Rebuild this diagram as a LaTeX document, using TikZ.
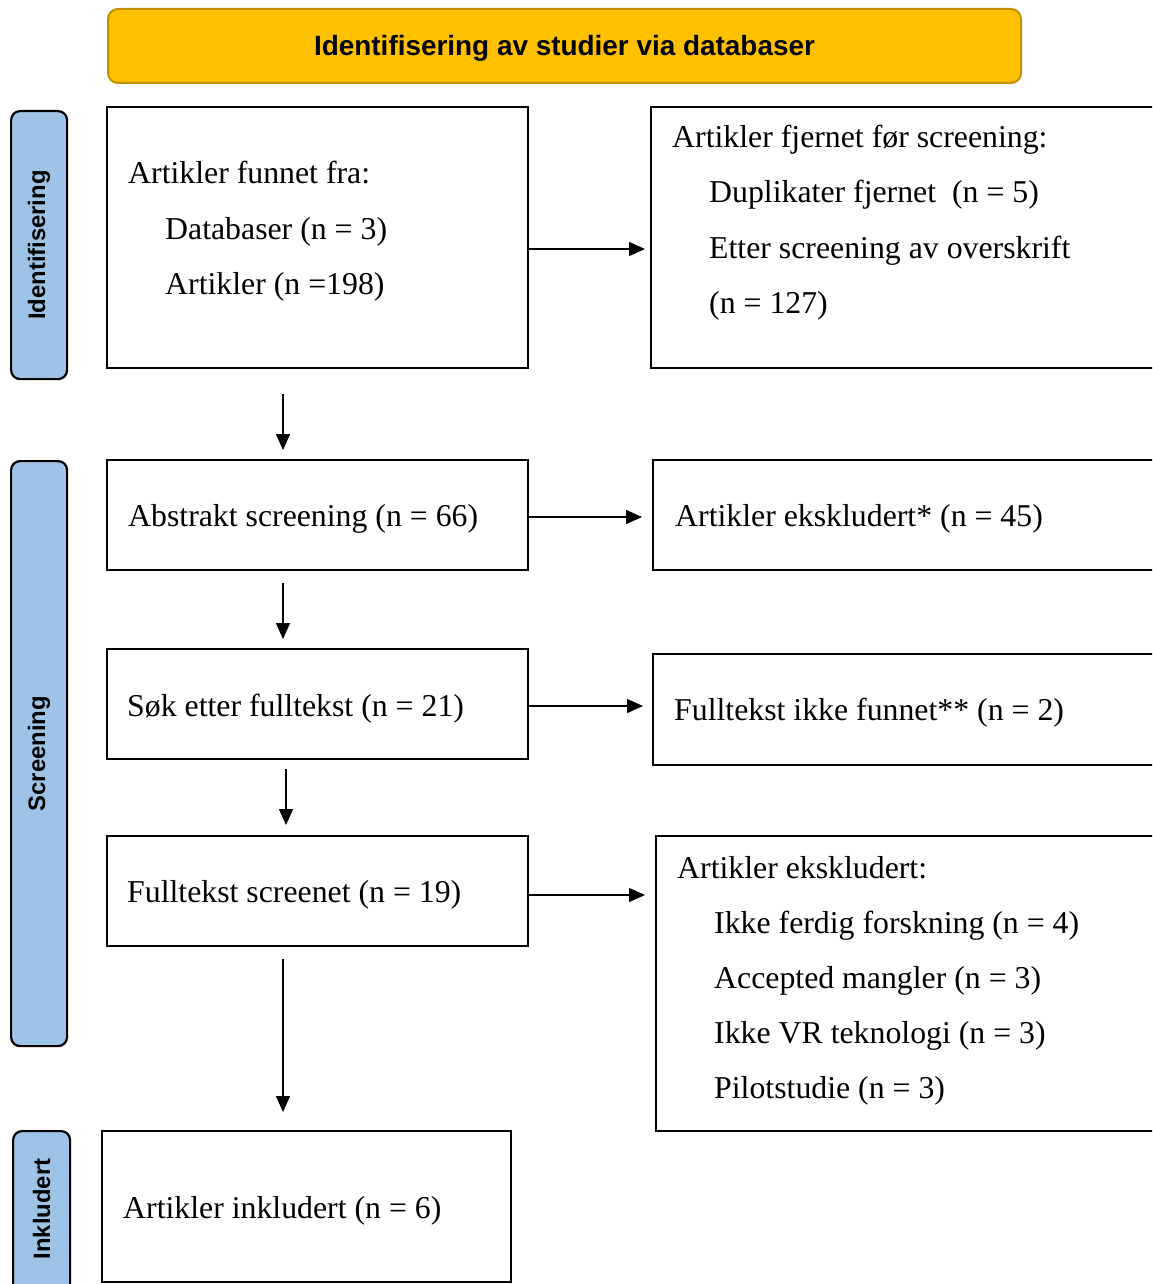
\documentclass[tikz,border=0pt]{standalone}
\usepackage{fontspec}
\setmainfont{Liberation Serif}
\setsansfont{Liberation Sans}
\usetikzlibrary{arrows.meta}
\definecolor{hdrfill}{HTML}{FFC000}
\definecolor{hdrdraw}{HTML}{C09000}
\definecolor{lblfill}{HTML}{9DC3E6}
\tikzset{
  box/.style={draw=black, line width=2.4pt, rectangle, anchor=north west, inner sep=0pt},
  hdr/.style={draw=hdrdraw, fill=hdrfill, line width=2pt, rounded corners=10pt, rectangle, inner sep=0pt,
              font=\sffamily\bfseries\fontsize{27.9}{32}\selectfont},
  lbl/.style={draw=black, fill=lblfill, line width=2.2pt, rounded corners=9pt, rectangle, anchor=north west, inner sep=0pt},
  lbltxt/.style={font=\sffamily\bfseries\fontsize{23.8}{28}\selectfont, rotate=90, inner sep=0pt},
  txt/.style={font=\fontsize{31.8}{38}\selectfont, anchor=base west, inner sep=0pt},
  arr/.style={line width=1.3pt, -{Triangle[length=16pt,width=14pt]}},
}
\begin{document}
\begin{tikzpicture}[x=1pt,y=-1pt]
\useasboundingbox (0,0) rectangle (1152,1284);
\clip (0,0) rectangle (1152,1284);
% header
\node[hdr, minimum width=913pt, minimum height=74pt] (hdr) at (564.5,46) {};
\node[font=\sffamily\bfseries\fontsize{27.9}{32}\selectfont, inner sep=0pt] at ([yshift=-2pt]hdr.center) {Identifisering av studier via databaser};
% side labels
\node[lbl, minimum width=56pt, minimum height=268pt] (L1) at (10,110) {};
\node[lbltxt] at (L1.center) {Identifisering};
\node[lbl, minimum width=56pt, minimum height=585pt] (L2) at (10,460) {};
\node[lbltxt] at (L2.center) {Screening};
\node[lbl, minimum width=57pt, minimum height=180pt] (L3) at (12,1130) {};
\node[lbltxt] at ([yshift=-79pt]L3.north) {Inkludert};
% left boxes
\node[box, minimum width=421pt, minimum height=261pt] (A) at (106,106) {};
\node[box, minimum width=421pt, minimum height=110pt] (C) at (106,459) {};
\node[box, minimum width=421pt, minimum height=110pt] (E) at (106,648) {};
\node[box, minimum width=421pt, minimum height=110pt] (G) at (106,835) {};
\node[box, minimum width=409pt, minimum height=151pt] (I) at (101,1130) {};
% right boxes
\node[box, minimum width=530pt, minimum height=261pt] (B) at (650,106) {};
\node[box, minimum width=530pt, minimum height=110pt] (D) at (652,459) {};
\node[box, minimum width=530pt, minimum height=111pt] (F) at (652,653) {};
\node[box, minimum width=530pt, minimum height=295pt] (H) at (655,835) {};
% texts
\node[txt] at (128,184) {Artikler funnet fra:};
\node[txt] at (165,239) {Databaser (n = 3)};
\node[txt] at (165,294) {Artikler (n =198)};
\node[txt] at (672,148) {Artikler fjernet før screening:};
\node[txt] at (709,203) {Duplikater fjernet\ \ (n = 5)};
\node[txt] at (709,258) {Etter screening av overskrift};
\node[txt] at (709,313) {(n = 127)};
\node[txt] at (128,526) {Abstrakt screening (n = 66)};
\node[txt] at (675,526) {Artikler ekskludert* (n = 45)};
\node[txt] at (127,716) {Søk etter fulltekst (n = 21)};
\node[txt] at (674,720) {Fulltekst ikke funnet** (n = 2)};
\node[txt] at (127,902) {Fulltekst screenet (n = 19)};
\node[txt] at (677,878) {Artikler ekskludert:};
\node[txt] at (714,933) {Ikke ferdig forskning (n = 4)};
\node[txt] at (714,988) {Accepted mangler (n = 3)};
\node[txt] at (714,1043) {Ikke VR teknologi (n = 3)};
\node[txt] at (714,1098) {Pilotstudie (n = 3)};
\node[txt] at (123,1218) {Artikler inkludert (n = 6)};
% horizontal arrows
\draw[arr, shorten >=5pt] (A.east |- 0,249) -- (B.west |- 0,249);
\draw[arr, shorten <=-2pt, shorten >=10pt] (C.east |- 0,517) -- (D.west |- 0,517);
\draw[arr, shorten >=9pt] (E.east |- 0,706) -- (F.west |- 0,706);
\draw[arr, shorten >=10pt] (G.east |- 0,895) -- (H.west |- 0,895);
% vertical arrows
\draw[arr, shorten <=25pt, shorten >=9pt] (A.south -| 283,0) -- (C.north -| 283,0);
\draw[arr, shorten <=12pt, shorten >=9pt] (C.south -| 283,0) -- (E.north -| 283,0);
\draw[arr, shorten <=9pt, shorten >=10pt] (E.south -| 286,0) -- (G.north -| 286,0);
\draw[arr, shorten <=12pt, shorten >=18pt] (G.south -| 283,0) -- (I.north -| 283,0);
\end{tikzpicture}
\end{document}
